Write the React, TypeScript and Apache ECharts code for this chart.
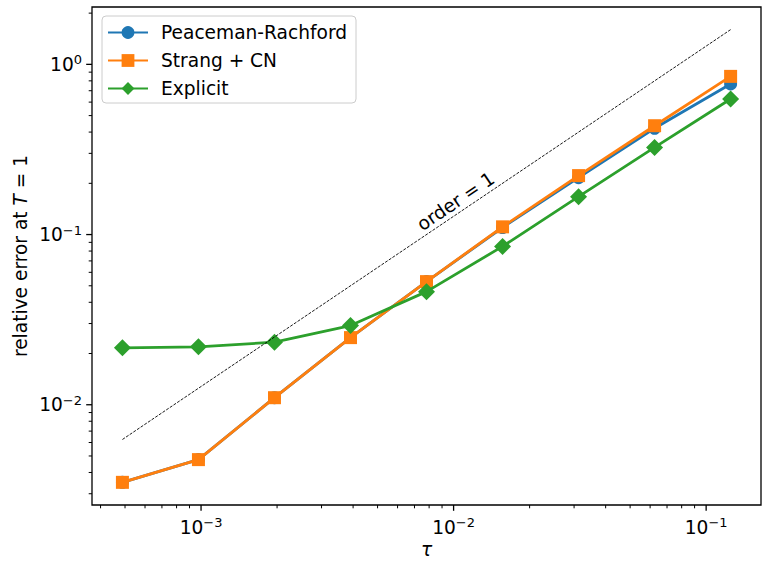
import React, { useEffect, useRef } from 'react';
import * as echarts from 'echarts';

// ---- data ----
const tau = [0.00048828125, 0.0009765625, 0.001953125, 0.00390625, 0.0078125, 0.015625, 0.03125, 0.0625, 0.125];
const peacemanRachford = [0.0035, 0.00476, 0.011, 0.0248, 0.0529, 0.11, 0.216, 0.421, 0.767];
const strangCN = [0.0035, 0.00476, 0.011, 0.0248, 0.0529, 0.111, 0.222, 0.436, 0.85];
const explicitErr = [0.0216, 0.0219, 0.0233, 0.0292, 0.0462, 0.0852, 0.167, 0.325, 0.626];

const orderLineX = [0.00048828125, 0.125];
const orderLineY = [0.00625, 1.6];
const orderLabelAt = [0.0108, 0.138];
const orderLabel = 'order = 1';

const xMajorTicks = [0.001, 0.01, 0.1];
const xMinorTicks = [
  0.0004, 0.0005, 0.0006, 0.0007, 0.0008, 0.0009,
  0.002, 0.003, 0.004, 0.005, 0.006, 0.007, 0.008, 0.009,
  0.02, 0.03, 0.04, 0.05, 0.06, 0.07, 0.08, 0.09,
];
const yMajorTicks = [0.01, 0.1, 1];
const yMinorTicks = [
  0.003, 0.004, 0.005, 0.006, 0.007, 0.008, 0.009,
  0.02, 0.03, 0.04, 0.05, 0.06, 0.07, 0.08, 0.09,
  0.2, 0.3, 0.4, 0.5, 0.6, 0.7, 0.8, 0.9, 2,
];

const X_MIN = 0.00037;
const X_MAX = 0.1649;
const Y_MIN = 0.002576;
const Y_MAX = 2.173;

const seriesNames = ['Peaceman-Rachford', 'Strang + CN', 'Explicit'];
const colors = ['#1f77b4', '#ff7f0e', '#2ca02c'];

const FONT = 'DejaVu Sans';
const FS = 18.6;

function pairs(xs: number[], ys: number[]) {
  return xs.map((x, i) => [x, ys[i]]);
}

function powLabel(v: number) {
  const e = Math.log10(v);
  const r = Math.round(e);
  if (Math.abs(e - r) > 1e-6) return '';
  return `{b|10}{s|${r < 0 ? '\u2212' : ''}${Math.abs(r)}}`;
}

const labelRich = {
  b: { fontSize: FS, fontFamily: FONT, color: '#000', lineHeight: 22 },
  s: { fontSize: 13, fontFamily: FONT, color: '#000', verticalAlign: 'top', lineHeight: 12 },
};

export default function App() {
  const ref = useRef<HTMLDivElement>(null);
  useEffect(() => {
    if (!ref.current) return;
    const chart = echarts.init(ref.current, undefined, { renderer: 'svg' });

    const xTickSeries = (vals: number[], major: boolean) => ({
      type: 'custom',
      silent: true,
      z: 5,
      data: vals.map((v) => [v, 1]),
      renderItem: (params: any, api: any) => {
        const p = api.coord([api.value(0), api.value(1)]);
        const cs = params.coordSys;
        const y0 = cs.y + cs.height;
        const len = major ? 5.8 : 3.3;
        return {
          type: 'line',
          shape: { x1: p[0], y1: y0, x2: p[0], y2: y0 + len },
          style: { stroke: '#000', lineWidth: major ? 1.3 : 1 },
        };
      },
    });
    const yTickSeries = (vals: number[], major: boolean) => ({
      type: 'custom',
      silent: true,
      z: 5,
      data: vals.map((v) => [0.01, v]),
      renderItem: (params: any, api: any) => {
        const p = api.coord([api.value(0), api.value(1)]);
        const cs = params.coordSys;
        const x0 = cs.x;
        const len = major ? 5.8 : 3.3;
        return {
          type: 'line',
          shape: { x1: x0, y1: p[1], x2: x0 - len, y2: p[1] },
          style: { stroke: '#000', lineWidth: major ? 1.3 : 1 },
        };
      },
    });

    const option: any = {
      animation: false,
      backgroundColor: '#fff',
      grid: {
        left: 92,
        top: 7,
        width: 669,
        height: 498,
        show: true,
        borderColor: '#000',
        borderWidth: 1.3,
        backgroundColor: 'transparent',
        containLabel: false,
        outerBoundsMode: 'none',
      },
      legend: {
        orient: 'vertical',
        left: 102,
        top: 16,
        data: seriesNames,
        selectedMode: false,
        itemWidth: 40,
        itemHeight: 16,
        itemGap: 9,
        padding: [7, 9, 5, 5],
        backgroundColor: 'rgba(255,255,255,0.8)',
        borderColor: '#cccccc',
        borderWidth: 1,
        borderRadius: 4,
        textStyle: {
          fontSize: FS,
          fontFamily: FONT,
          color: '#000',
          lineHeight: 17.5,
          padding: [0, 0, 0, 8],
        },
      },
      xAxis: {
        type: 'log',
        logBase: 10,
        min: X_MIN,
        max: X_MAX,
        name: 'τ',
        nameLocation: 'middle',
        nameGap: 35,
        nameMoveOverlap: false,
        nameTextStyle: { fontSize: FS, fontFamily: FONT, fontStyle: 'italic', color: '#000' },
        axisLine: { show: false },
        axisTick: { show: false },
        minorTick: { show: false },
        splitLine: { show: false },
        axisLabel: {
          margin: 11,
          formatter: (v: number) => powLabel(v),
          rich: labelRich,
          showMinLabel: true,
          showMaxLabel: true,
        },
      },
      yAxis: {
        type: 'log',
        logBase: 10,
        min: Y_MIN,
        max: Y_MAX,
        name: '{n|relative error at }{i|T}{n| = 1}',
        nameLocation: 'middle',
        nameGap: 62,
        nameMoveOverlap: false,
        nameTextStyle: {
          fontSize: FS,
          fontFamily: FONT,
          color: '#000',
          rich: {
            n: { fontSize: FS, fontFamily: FONT, color: '#000' },
            i: { fontSize: FS, fontFamily: FONT, color: '#000', fontStyle: 'italic' },
          },
        },
        axisLine: { show: false },
        axisTick: { show: false },
        minorTick: { show: false },
        splitLine: { show: false },
        axisLabel: {
          margin: 10,
          formatter: (v: number) => powLabel(v),
          rich: labelRich,
        },
      },
      series: [
        xTickSeries(xMajorTicks, true),
        xTickSeries(xMinorTicks, false),
        yTickSeries(yMajorTicks, true),
        yTickSeries(yMinorTicks, false),
        {
          name: seriesNames[0],
          type: 'line',
          data: pairs(tau, peacemanRachford),
          color: colors[0],
          symbol: 'circle',
          symbolSize: 13,
          lineStyle: { width: 2.8, color: colors[0] },
          itemStyle: { color: colors[0] },
          z: 2,
        },
        {
          name: seriesNames[1],
          type: 'line',
          data: pairs(tau, strangCN),
          color: colors[1],
          symbol: 'rect',
          symbolSize: 13,
          lineStyle: { width: 2.8, color: colors[1] },
          itemStyle: { color: colors[1] },
          z: 3,
        },
        {
          name: seriesNames[2],
          type: 'line',
          data: pairs(tau, explicitErr),
          color: colors[2],
          symbol: 'diamond',
          symbolSize: 17,
          lineStyle: { width: 2.8, color: colors[2] },
          itemStyle: { color: colors[2] },
          z: 4,
        },
        {
          name: 'order',
          type: 'line',
          data: pairs(orderLineX, orderLineY),
          symbol: 'none',
          lineStyle: { width: 0.9, color: '#000', type: [3, 1.4] },
          z: 6,
          silent: true,
        },
        {
          name: 'orderLabel',
          type: 'custom',
          silent: true,
          z: 7,
          data: [orderLabelAt],
          renderItem: (params: any, api: any) => {
            const p = api.coord([api.value(0), api.value(1)]);
            const a = api.coord([orderLineX[0], orderLineY[0]]);
            const b = api.coord([orderLineX[1], orderLineY[1]]);
            const rot = Math.atan2(a[1] - b[1], b[0] - a[0]);
            return {
              type: 'text',
              x: p[0],
              y: p[1],
              rotation: rot,
              style: {
                text: orderLabel,
                x: 0,
                y: -2,
                align: 'center',
                verticalAlign: 'bottom',
                fontSize: FS,
                fontFamily: FONT,
                fill: '#000',
              },
            };
          },
        },
      ],
    };
    chart.setOption(option);
    return () => chart.dispose();
  }, []);
  return (
    <div
      ref={ref}
      style={{ position: 'absolute', left: 0, top: 0, width: 768, height: 567, background: '#fff' }}
    />
  );
}
